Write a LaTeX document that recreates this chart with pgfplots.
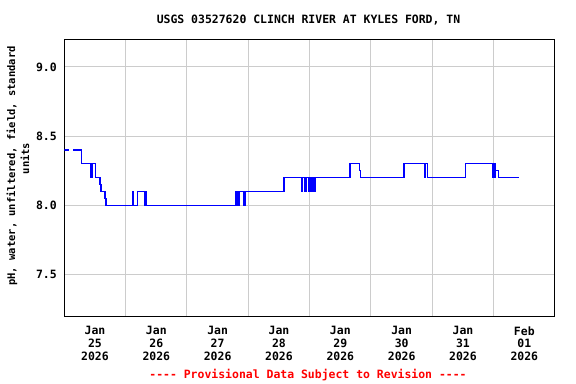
\documentclass[border=0pt]{standalone}
\usepackage{fontspec}
\setmainfont{DejaVu Sans Mono}[Ligatures=ResetAll]
\setmonofont{DejaVu Sans Mono}
\usepackage{pgfplots}
\pgfplotsset{compat=1.18}
\definecolor{gridgray}{RGB}{204,204,204}
\definecolor{lineblue}{RGB}{0,0,255}
\definecolor{provred}{RGB}{255,0,0}
\begin{document}
\begin{tikzpicture}
\path[use as bounding box] (0bp,0bp) rectangle (576bp,384bp);
\begin{axis}[
  at={(64.3bp,68bp)}, anchor=south west, scale only axis,
  width=490.7bp, height=276.7bp,
  xmin=0, xmax=8, ymin=7.2, ymax=9.2,
  axis line style={black, line width=1bp},
  xtick={0.5,1.5,2.5,3.5,4.5,5.5,6.5,7.5},
  xticklabels={{Jan\\25\\2026},{Jan\\26\\2026},{Jan\\27\\2026},{Jan\\28\\2026},{Jan\\29\\2026},{Jan\\30\\2026},{Jan\\31\\2026},{Feb\\01\\2026}},
  minor xtick={1,2,3,4,5,6,7},
  xmajorgrids=false, xminorgrids=true,
  ytick={7.5,8.0,8.5,9.0},
  yticklabels={7.5,8.0,8.5,9.0},
  ymajorgrids=true,
  grid style={gridgray, line width=1bp},
  minor grid style={gridgray, line width=1bp},
  major tick length=0pt, minor tick length=0pt,
  ticklabel style={font=\ttfamily\fontsize{11.5}{12.7}\selectfont\bfseries},
  xticklabel style={align=center, yshift=-7bp},
  yticklabel style={xshift=-4bp},
  clip=true,
]
\addplot[const plot, lineblue, line width=1.1bp] coordinates {(0,8.4) (0.0815,8.4)};
\addplot[const plot, lineblue, line width=1.1bp] table {
x y
0.147 8.4
0.28 8.3
0.435 8.2
0.443 8.3
0.452 8.2
0.46 8.3
0.512 8.2
0.582 8.15
0.598 8.1
0.664 8.05
0.680 8.0
1.109 8.1
1.125 8.0
1.190 8.1
1.316 8.0
1.332 8.1
1.344 8.0
2.800 8.1
2.808 8.0
2.816 8.1
2.824 8.0
2.832 8.1
2.849 8.0
2.857 8.1
2.930 8.0
2.946 8.1
3.571 8.2
3.583 8.1
3.591 8.2
3.871 8.1
3.881 8.2
3.925 8.1
3.952 8.2
3.974 8.1
3.990 8.2
4.006 8.1
4.022 8.2
4.030 8.1
4.039 8.2
4.047 8.1
4.055 8.2
4.063 8.1
4.071 8.2
4.079 8.1
4.087 8.2
4.647 8.3
4.655 8.2
4.663 8.3
4.810 8.25
4.833 8.2
5.528 8.3
5.536 8.2
5.547 8.3
5.881 8.2
5.890 8.3
5.919 8.2
6.538 8.3
6.985 8.2
6.993 8.3
7.001 8.2
7.009 8.3
7.017 8.2
7.025 8.3
7.033 8.25
7.077 8.2
7.409 8.2
};
\end{axis}
\node[anchor=base, font=\ttfamily\fontsize{11.5}{12.7}\selectfont\bfseries] at (308.5bp,360bp) {USGS 03527620 CLINCH RIVER AT KYLES FORD, TN};
\node[anchor=base, text=provred, font=\ttfamily\fontsize{11.5}{12.7}\selectfont\bfseries] at (308bp,6bp) {---- Provisional Data Subject to Revision ----};
\node[anchor=base, rotate=90, font=\ttfamily\fontsize{10.5}{12}\selectfont\bfseries] at (15bp,218bp) {pH, water, unfiltered, field, standard};
\node[anchor=base, rotate=90, font=\ttfamily\fontsize{10.5}{12}\selectfont\bfseries] at (29bp,225.5bp) {units};
\end{tikzpicture}
\end{document}
